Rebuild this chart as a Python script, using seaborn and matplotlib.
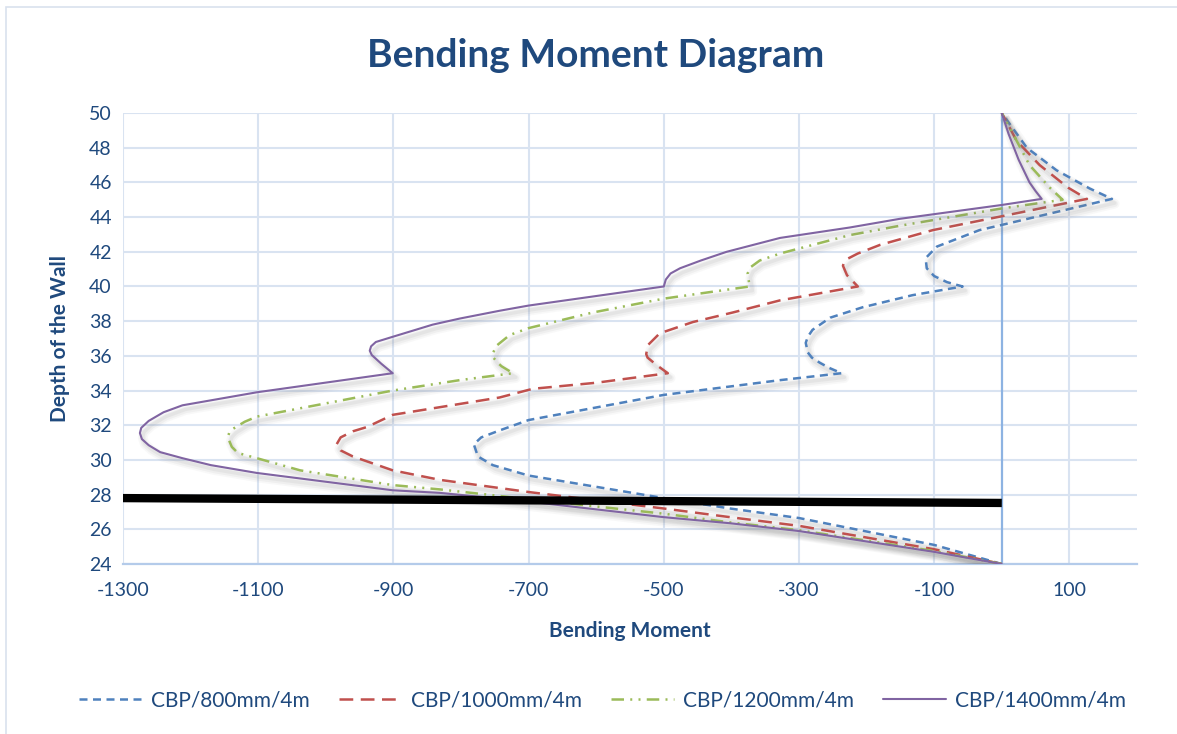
import numpy as np
import pandas as pd
import matplotlib
matplotlib.use("Agg")
import matplotlib.pyplot as plt
import matplotlib.patheffects as pe
from matplotlib.patches import Rectangle
import seaborn as sns

# ---------------- data ----------------
labels = ["CBP/800mm/4m", "CBP/1000mm/4m", "CBP/1200mm/4m", "CBP/1400mm/4m"]

m800 = [0, -100, -300, -402, -500, -700, -753, -775, -781, -770, -743, -700, -500,
        -328, -237, -255, -269, -281, -287, -290, -287, -280, -254, -206, -132, -58,
        -81, -100, -111, -112, -111, -96, -33, 0, 163, 130, 81, 37, 0]
d800 = [24, 25.1, 26.65, 27.2, 27.8, 29.1, 29.7, 30.2, 30.9, 31.3, 31.7, 32.3, 33.75,
        34.6, 35.0, 35.3, 35.6, 35.9, 36.2, 36.75, 37.1, 37.5, 38.2, 38.8, 39.5, 40.0,
        40.25, 40.6, 41.05, 41.4, 41.7, 42.3, 43.25, 43.55, 45.05, 45.65, 46.7, 48.0, 50]

m1000 = [0, -100, -300, -402, -500, -700, -831, -901, -960, -978, -984, -978, -960,
         -939, -901, -743, -694, -600, -494, -510, -524, -526, -525, -524, -506, -457,
         -398, -328, -213, -229, -235, -233, -228, -213, -180, -102, 0, 126, 98, 56,
         22, 0]
d1000 = [24, 24.85, 26.2, 26.7, 27.2, 28.15, 28.85, 29.4, 30.2, 30.55, 30.9, 31.3,
         31.65, 31.9, 32.6, 33.6, 34.1, 34.45, 35.0, 35.45, 35.9, 36.1, 36.3, 36.6, 37.3,
         37.95, 38.5, 39.2, 40.0, 40.65, 41.2, 41.4, 41.6, 41.9, 42.4, 43.25, 44.05,
         45.05, 45.7, 47.0, 48.4, 50]

m1200 = [0, -100, -300, -402, -500, -620, -831, -901, -1038, -1102, -1130, -1139,
         -1145, -1143, -1137, -1120, -1102, -901, -802, -723, -740, -747, -752, -753,
         -747, -728, -700, -605, -500, -373, -376, -372, -358, -328, -225, -151, 0, 90,
         71, 41, 22, 0]
d1200 = [24, 24.75, 25.95, 26.4, 26.9, 27.4, 28.3, 28.55, 29.4, 30.1, 30.4, 30.75,
         31.3, 31.55, 31.8, 32.2, 32.5, 34.0, 34.6, 35.0, 35.4, 35.65, 35.9, 36.15, 36.6,
         37.2, 37.6, 38.5, 39.3, 40.0, 40.75, 41.1, 41.5, 41.9, 42.96, 43.5, 44.5, 45.0,
         45.7, 47.0, 48.4, 50]

m1400 = [0, -100, -300, -402, -500, -700, -831, -901, -1102, -1170, -1212, -1245,
         -1262, -1272, -1275, -1273, -1262, -1240, -1212, -1102, -901, -918, -932, -935,
         -933, -926, -901, -842, -802, -743, -700, -500, -497, -490, -476, -445, -407,
         -328, -225, -151, 0, 59, 50, 41, 25, 10, 0]
d1400 = [24, 24.7, 25.9, 26.35, 26.7, 27.6, 28.1, 28.25, 29.25, 29.7, 30.1, 30.45,
         30.85, 31.2, 31.55, 31.85, 32.25, 32.75, 33.15, 33.9, 35.0, 35.55, 36.05, 36.3,
         36.55, 36.8, 37.1, 37.8, 38.15, 38.6, 38.9, 40.0, 40.4, 40.75, 41.05, 41.5, 42.0,
         42.8, 43.4, 43.9, 44.7, 45.05, 45.5, 46.0, 47.3, 48.8, 50]

# thick black reference line
black_m = [-1300, 0]
black_d = [27.8, 27.52]

x_ticks = [-1300, -1100, -900, -700, -500, -300, -100, 100]
y_ticks = list(range(24, 51, 2))

# ---------------- style ----------------
sns.set_theme(style="white")
plt.rcParams["font.family"] = ["Lato", "DejaVu Sans"]
plt.rcParams["axes.unicode_minus"] = False

TXT = "#1F497D"
GRID = "#D9E3F1"
colors = ["#4F81BD", "#C0504D", "#9BBB59", "#8064A2"]
styles = [(0, (3.2, 2.2)), (0, (5.5, 3.0)), (0, (5.0, 2.5, 0.8, 2.5, 0.8, 2.5)), "-"]
widths = [1.8, 1.8, 1.8, 1.5]

fig = plt.figure(figsize=(11.77, 7.34), dpi=100)
ax = fig.add_axes([0.1045, 0.2316, 0.8615, 0.6144])

# outer chart border
fig.add_artist(Rectangle((6 / 1177, -0.2), 2.0, 1.2 - 7 / 734, transform=fig.transFigure,
                         fill=False, ec="#D9E1EE", lw=1.2))

series = [(m800, d800), (m1000, d1000), (m1200, d1200), (m1400, d1400)]
solid = dict(dash_offset=0, dash_list=None)
shadow = [pe.SimpleLineShadow(offset=(2, -3.5), shadow_color="#808080", alpha=0.05,
                              linewidth=7, dashes=solid),
          pe.SimpleLineShadow(offset=(2, -3.5), shadow_color="#808080", alpha=0.07,
                              linewidth=4.5, dashes=solid),
          pe.SimpleLineShadow(offset=(2, -3), shadow_color="#808080", alpha=0.09,
                              linewidth=2.5, dashes=solid),
          pe.Normal()]
for (m, d), lab, c, ls, lw in zip(series, labels, colors, styles, widths):
    df = pd.DataFrame({"moment": m, "depth": d})
    sns.lineplot(data=df, x="moment", y="depth", sort=False, estimator=None, ax=ax,
                 color=c, linestyle=ls, linewidth=lw, label=lab,
                 path_effects=shadow, zorder=3, solid_joinstyle="round",
                 dash_joinstyle="round")

sns.lineplot(x=black_m, y=black_d, sort=False, estimator=None, ax=ax, color="black",
             linewidth=6, zorder=4, legend=False, solid_capstyle="butt")

ax.set_xlim(-1300, 200)
ax.set_ylim(24, 50)
ax.set_xticks(x_ticks)
ax.set_yticks(y_ticks)
ax.grid(True, color=GRID, linewidth=1.5)
ax.set_axisbelow(True)
ax.axvline(0, color="#8DB3E2", linewidth=1.6, zorder=2)
for s in ["top", "right", "left"]:
    ax.spines[s].set_visible(False)
ax.spines["bottom"].set_color("#B4CBEA")
ax.spines["bottom"].set_linewidth(1.6)
ax.tick_params(axis="both", length=0, labelsize=14, colors=TXT)
ax.tick_params(axis="x", pad=13)
ax.tick_params(axis="y", pad=8)

ax.set_xlabel("Bending Moment", fontsize=15, fontweight="bold", color=TXT, labelpad=16)
ax.set_ylabel("Depth of the Wall", fontsize=15, fontweight="bold", color=TXT, labelpad=14)

fig.text(0.506, 0.925, "Bending Moment Diagram", ha="center", va="center",
         fontsize=28, fontweight="bold", color=TXT)

handles, labs = ax.get_legend_handles_labels()
leg = ax.legend(handles[:4], labs[:4], loc="center", bbox_to_anchor=(0.512, 0.046),
                bbox_transform=fig.transFigure, ncol=4, frameon=False, fontsize=15,
                handlelength=3.0, handletextpad=0.45, columnspacing=1.4)
for t in leg.get_texts():
    t.set_color(TXT)
for h in leg.get_lines():
    h.set_path_effects([])

fig.savefig("out.png", dpi=100, facecolor="white")
